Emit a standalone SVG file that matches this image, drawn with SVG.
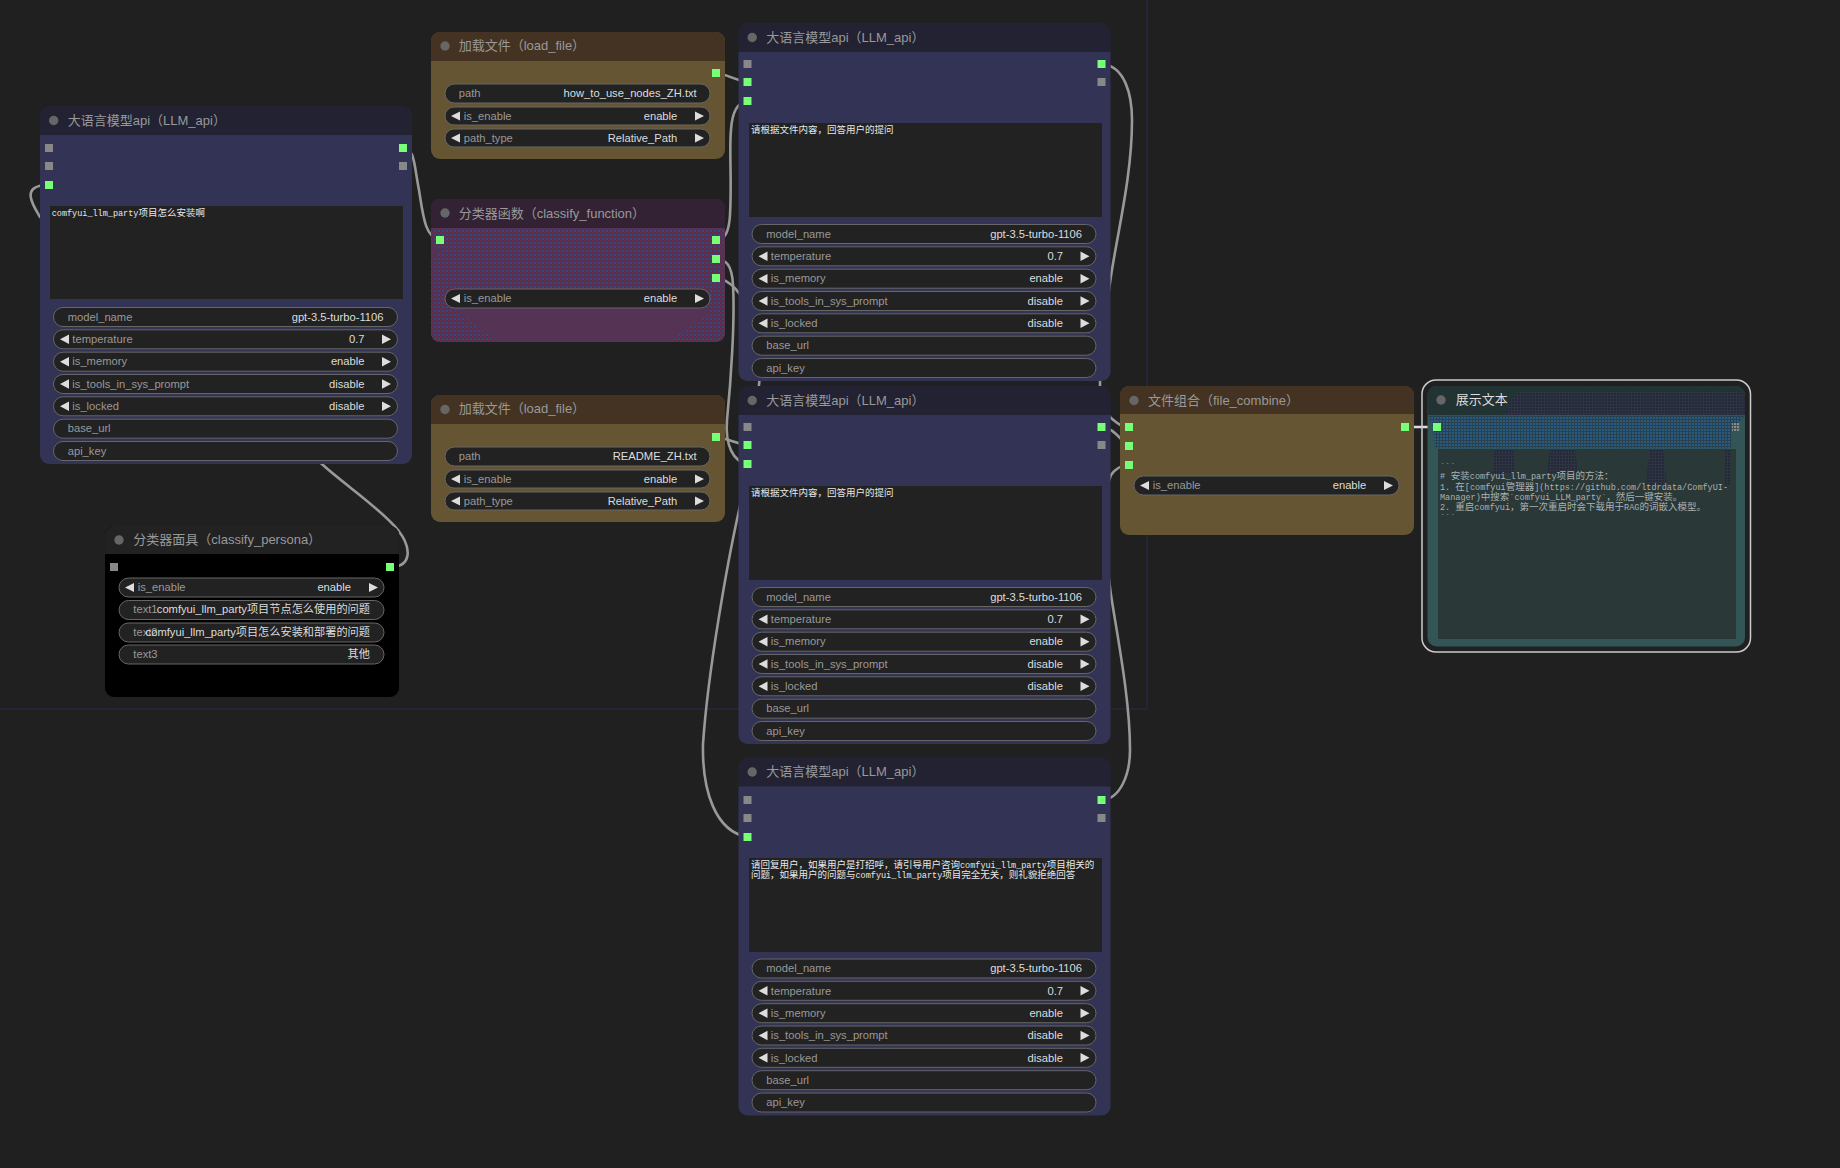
<svg xmlns="http://www.w3.org/2000/svg" width="1840" height="1168" viewBox="0 0 1840 1168">
<style>
.t{font:13px "Liberation Sans","Noto Sans CJK SC",sans-serif;fill:#999}
.l{font:11.2px "Liberation Sans","Noto Sans CJK SC",sans-serif;fill:#999}
.v{font:11.2px "Liberation Sans","Noto Sans CJK SC",sans-serif;fill:#ddd;text-anchor:end}
.ta{font:8.5px "Liberation Mono","Noto Sans CJK SC",monospace;fill:#e8e8e8}
.ta tspan{font-size:9.5px}
.out{fill:#aab2b2}
.w{fill:#222;stroke:#666;stroke-width:1}
.a{fill:#ddd}
.on{fill:#77ff77}
.off{fill:#888}
.dot{fill:#666}
.wire{fill:none;stroke:#999;stroke-width:2.6;stroke-linecap:round}
.area{fill:#222}
</style>
<defs>
<pattern id="dRB" width="4" height="4" patternUnits="userSpaceOnUse"><rect width="4" height="4" fill="#4e3358"/><rect width="2" height="2" fill="#6e2c40"/><rect x="2" y="2" width="2" height="2" fill="#3f4478"/></pattern>
<pattern id="dBlue" width="3" height="3" patternUnits="userSpaceOnUse"><rect width="3" height="3" fill="#27414f"/><rect width="2" height="2" fill="#2a5a80"/></pattern>
<pattern id="dDark" width="3" height="3" patternUnits="userSpaceOnUse"><rect width="3" height="3" fill="#2c3640"/><rect width="2" height="2" fill="#26263c"/></pattern>
<pattern id="dGrid" width="3" height="3" patternUnits="userSpaceOnUse"><rect width="3" height="3" fill="#3c5a5c"/><rect width="2" height="2" fill="#8a8a8a"/></pattern>
<clipPath id="cfClip"><rect x="431" y="199" width="294" height="143" rx="9"/></clipPath>
<g id="llmW">
<rect class="w" x="13.5" y="201.5" width="344" height="19" rx="9.5"/>
<rect class="w" x="13.5" y="223.8" width="344" height="19" rx="9.5"/>
<rect class="w" x="13.5" y="246.2" width="344" height="19" rx="9.5"/>
<rect class="w" x="13.5" y="268.5" width="344" height="19" rx="9.5"/>
<rect class="w" x="13.5" y="290.8" width="344" height="19" rx="9.5"/>
<rect class="w" x="13.5" y="313.2" width="344" height="19" rx="9.5"/>
<rect class="w" x="13.5" y="335.5" width="344" height="19" rx="9.5"/>
<path class="a" d="M29,228.6L20,233.3L29,238ZM342,228.6L351,233.3L342,238ZM29,251L20,255.7L29,260.4ZM342,251L351,255.7L342,260.4ZM29,273.3L20,278L29,282.7ZM342,273.3L351,278L342,282.7ZM29,295.6L20,300.3L29,305ZM342,295.6L351,300.3L342,305Z"/>
</g>
<path id="llmBody" d="M0,29H372V349a9,9 0 0 1-9,9H9a9,9 0 0 1-9-9Z" fill="#333355"/>
<g id="loadW">
<rect class="w" x="14" y="52" width="265" height="19" rx="9.5"/>
<rect class="w" x="14" y="75" width="265" height="18" rx="9"/>
<rect class="w" x="14" y="97" width="265" height="18" rx="9"/>
<path class="a" d="M29,79.4L20,84L29,88.6ZM264,79.4L273,84L264,88.6ZM29,101.4L20,106L29,110.6ZM264,101.4L273,106L264,110.6Z"/>
</g>
<path id="toggle" class="a" d="M29,5L20,9.5L29,14ZM264,5L273,9.5L264,14Z"/>
</defs>
<rect width="1840" height="1168" fill="#202020"/>
<path d="M1147,0V709H0" fill="none" stroke="#242a3c" stroke-width="1.5"/>

<g id="connectors">
<path class="wire" d="M403,148C415,148 414,165 419,190C423,215 425,238 440,240"/>
<path class="wire" d="M390,567C412,567 412,548 398,530C380,508 345,485 323,465L40,217C32,204 20,185 49,185"/>
<path class="wire" d="M716,73C728,74 732,80 748,82"/>
<path class="wire" d="M716,240C726,240 729,230 730,215C732,180 729,150 731,130C732,112 738,102 748,101"/>
<path class="wire" d="M716,259C726,259 732,265 733,285C735,320 731,380 727,420C725,445 733,462 748,464"/>
<path class="wire" d="M716,278C745,280 765,340 759,385C755,430 748,470 738,515C728,560 708,670 703,744C702,790 715,832 748,837"/>
<path class="wire" d="M716,437C728,438 732,443 748,445"/>
<path class="wire" d="M1102,64C1125,66 1132,95 1132,120C1132,175 1118,230 1111,276C1106,310 1100,350 1100,384C1100,400 1105,412 1111,418C1118,424 1122,427 1129,427"/>
<path class="wire" d="M1102,427C1114,428 1120,440 1129,446"/>
<path class="wire" d="M1102,800C1120,799 1130,775 1130,750C1130,700 1118,640 1111,595C1105,550 1100,500 1111,475C1116,468 1122,465 1129,465"/>
<path class="wire" style="stroke:#ddd" d="M1405,427H1437"/>
</g>

<g id="llm1" transform="translate(40,106)">
<rect width="372" height="60" rx="9" fill="#222233"/><use href="#llmBody"/>
<circle class="dot" cx="13.7" cy="14.5" r="4.7"/><text class="t" x="27.7" y="18.5">大语言模型api（LLM_api）</text>
<rect class="off" x="5" y="38" width="8" height="8"/><rect class="off" x="5" y="56" width="8" height="8"/><rect class="on" x="5" y="75" width="8" height="8"/>
<rect class="on" x="359" y="38" width="8" height="8"/><rect class="off" x="359" y="56" width="8" height="8"/>
<rect class="area" x="10" y="100" width="353" height="93"/>
<text class="ta" x="11.7" y="110">comfyui_llm_party<tspan>项目怎么安装啊</tspan></text>
<use href="#llmW"/>
<text class="l" x="27.7" y="214.8">model_name</text><text class="v" x="343.5" y="214.8">gpt-3.5-turbo-1106</text>
<text class="l" x="32.3" y="237.2">temperature</text><text class="v" x="324.5" y="237.2">0.7</text>
<text class="l" x="32.3" y="259.2">is_memory</text><text class="v" x="324.5" y="259.2">enable</text>
<text class="l" x="32.3" y="281.5">is_tools_in_sys_prompt</text><text class="v" x="324.5" y="281.5">disable</text>
<text class="l" x="32.3" y="304">is_locked</text><text class="v" x="324.5" y="304">disable</text>
<text class="l" x="27.7" y="326.2">base_url</text>
<text class="l" x="27.7" y="348.5">api_key</text>
</g>

<g id="llm2" transform="translate(738.5,23)">
<rect width="372" height="60" rx="9" fill="#222233"/><use href="#llmBody"/>
<circle class="dot" cx="13.7" cy="14.5" r="4.7"/><text class="t" x="27.7" y="18.5">大语言模型api（LLM_api）</text>
<rect class="off" x="5" y="37" width="8" height="8"/><rect class="on" x="5" y="55" width="8" height="8"/><rect class="on" x="5" y="74" width="8" height="8"/>
<rect class="on" x="359" y="37" width="8" height="8"/><rect class="off" x="359" y="55" width="8" height="8"/>
<rect class="area" x="10.5" y="100" width="353" height="94"/>
<text class="ta" x="12.5" y="110"><tspan>请根据文件内容，回答用户的提问</tspan></text>
<use href="#llmW"/>
<text class="l" x="27.7" y="214.5">model_name</text><text class="v" x="343.5" y="214.5">gpt-3.5-turbo-1106</text>
<text class="l" x="32.3" y="236.8">temperature</text><text class="v" x="324.5" y="236.8">0.7</text>
<text class="l" x="32.3" y="259">is_memory</text><text class="v" x="324.5" y="259">enable</text>
<text class="l" x="32.3" y="281.5">is_tools_in_sys_prompt</text><text class="v" x="324.5" y="281.5">disable</text>
<text class="l" x="32.3" y="303.8">is_locked</text><text class="v" x="324.5" y="303.8">disable</text>
<text class="l" x="27.7" y="326">base_url</text>
<text class="l" x="27.7" y="348.5">api_key</text>
</g>

<g id="llm3" transform="translate(738.5,386)">
<rect width="372" height="60" rx="9" fill="#222233"/><use href="#llmBody"/>
<circle class="dot" cx="13.7" cy="14.5" r="4.7"/><text class="t" x="27.7" y="18.5">大语言模型api（LLM_api）</text>
<rect class="off" x="5" y="37" width="8" height="8"/><rect class="on" x="5" y="55" width="8" height="8"/><rect class="on" x="5" y="74" width="8" height="8"/>
<rect class="on" x="359" y="37" width="8" height="8"/><rect class="off" x="359" y="55" width="8" height="8"/>
<rect class="area" x="10.5" y="100" width="353" height="94"/>
<text class="ta" x="12.5" y="110"><tspan>请根据文件内容，回答用户的提问</tspan></text>
<use href="#llmW"/>
<text class="l" x="27.7" y="214.5">model_name</text><text class="v" x="343.5" y="214.5">gpt-3.5-turbo-1106</text>
<text class="l" x="32.3" y="236.8">temperature</text><text class="v" x="324.5" y="236.8">0.7</text>
<text class="l" x="32.3" y="259">is_memory</text><text class="v" x="324.5" y="259">enable</text>
<text class="l" x="32.3" y="281.5">is_tools_in_sys_prompt</text><text class="v" x="324.5" y="281.5">disable</text>
<text class="l" x="32.3" y="303.8">is_locked</text><text class="v" x="324.5" y="303.8">disable</text>
<text class="l" x="27.7" y="326">base_url</text>
<text class="l" x="27.7" y="348.5">api_key</text>
</g>

<g id="llm4" transform="translate(738.5,757.5)">
<rect width="372" height="60" rx="9" fill="#222233"/><use href="#llmBody"/>
<circle class="dot" cx="13.7" cy="14.5" r="4.7"/><text class="t" x="27.7" y="18.5">大语言模型api（LLM_api）</text>
<rect class="off" x="5" y="38.5" width="8" height="8"/><rect class="off" x="5" y="56.5" width="8" height="8"/><rect class="on" x="5" y="75.5" width="8" height="8"/>
<rect class="on" x="359" y="38.5" width="8" height="8"/><rect class="off" x="359" y="56.5" width="8" height="8"/>
<rect class="area" x="10.5" y="100.5" width="353" height="94"/>
<text class="ta" x="12.5" y="110.5"><tspan>请回复用户，如果用户是打招呼，请引导用户咨询</tspan>comfyui_llm_party<tspan>项目相关的</tspan></text>
<text class="ta" x="12.5" y="120.5"><tspan>问题，如果用户的问题与</tspan>comfyui_llm_party<tspan>项目完全无关，则礼貌拒绝回答</tspan></text>
<use href="#llmW"/>
<text class="l" x="27.7" y="214.8">model_name</text><text class="v" x="343.5" y="214.8">gpt-3.5-turbo-1106</text>
<text class="l" x="32.3" y="237">temperature</text><text class="v" x="324.5" y="237">0.7</text>
<text class="l" x="32.3" y="259.2">is_memory</text><text class="v" x="324.5" y="259.2">enable</text>
<text class="l" x="32.3" y="281.5">is_tools_in_sys_prompt</text><text class="v" x="324.5" y="281.5">disable</text>
<text class="l" x="32.3" y="304">is_locked</text><text class="v" x="324.5" y="304">disable</text>
<text class="l" x="27.7" y="326.2">base_url</text>
<text class="l" x="27.7" y="348.5">api_key</text>
</g>

<g id="load1" transform="translate(431,32)">
<rect width="294" height="127" rx="9" fill="#665533"/>
<path d="M0,29V9a9,9 0 0 1 9-9H285a9,9 0 0 1 9,9V29Z" fill="#443322"/>
<circle class="dot" cx="14" cy="14" r="4.7"/><text class="t" x="27.7" y="18">加载文件（load_file）</text>
<rect class="on" x="281" y="37" width="8" height="8"/>
<use href="#loadW"/>
<text class="l" x="27.7" y="65">path</text><text class="v" x="265.7" y="65">how_to_use_nodes_ZH.txt</text>
<text class="l" x="32.7" y="88">is_enable</text><text class="v" x="246.3" y="88">enable</text>
<text class="l" x="32.7" y="110">path_type</text><text class="v" x="246.3" y="110">Relative_Path</text>
</g>

<g id="load2" transform="translate(431,395)">
<rect width="294" height="127" rx="9" fill="#665533"/>
<path d="M0,29V9a9,9 0 0 1 9-9H285a9,9 0 0 1 9,9V29Z" fill="#443322"/>
<circle class="dot" cx="14" cy="14.5" r="4.7"/><text class="t" x="27.7" y="18.2">加载文件（load_file）</text>
<rect class="on" x="281" y="38" width="8" height="8"/>
<use href="#loadW"/>
<text class="l" x="27.7" y="65.3">path</text><text class="v" x="265.7" y="65.3">README_ZH.txt</text>
<text class="l" x="32.7" y="87.5">is_enable</text><text class="v" x="246.3" y="87.5">enable</text>
<text class="l" x="32.7" y="110">path_type</text><text class="v" x="246.3" y="110">Relative_Path</text>
</g>

<g id="classifyFunction">
<rect x="431" y="199" width="294" height="143" rx="9" fill="#553355"/>
<path d="M431,228V208a9,9 0 0 1 9-9H716a9,9 0 0 1 9,9V228Z" fill="#332233"/>
<path clip-path="url(#cfClip)" fill="url(#dRB)" d="M431,229H725V245L722,247V283L725,290V342H668L708,315L710,308H445L458,312L498,342H431V262L442,248L431,246Z"/>
<circle class="dot" cx="445" cy="213" r="4.7"/><text class="t" x="458.7" y="218">分类器函数（classify_function）</text>
<rect class="on" x="436" y="236" width="8" height="8"/>
<rect class="on" x="712" y="236" width="8" height="8"/><rect class="on" x="712" y="255" width="8" height="8"/><rect class="on" x="712" y="274" width="8" height="8"/>
<rect class="w" x="445" y="289" width="265" height="19" rx="9.5"/>
<use href="#toggle" transform="translate(431,289)"/>
<text class="l" x="463.7" y="302">is_enable</text><text class="v" x="677.3" y="302">enable</text>
</g>

<g id="classifyPersona" transform="translate(105,526)">
<rect width="294" height="171" rx="9" fill="#000"/>
<path d="M0,28V9a9,9 0 0 1 9-9H285a9,9 0 0 1 9,9V28Z" fill="#222"/>
<circle class="dot" cx="14" cy="14" r="4.7"/><text class="t" x="28.3" y="18">分类器面具（classify_persona）</text>
<rect class="off" x="5" y="37" width="8" height="8"/><rect class="on" x="281" y="37" width="8" height="8"/>
<rect class="w" x="14" y="52" width="265" height="19" rx="9.5"/>
<use href="#toggle" transform="translate(0,52)"/>
<rect class="w" x="14" y="74.5" width="265" height="19" rx="9.5"/>
<rect class="w" x="14" y="97" width="265" height="19" rx="9.5"/>
<rect class="w" x="14" y="119" width="265" height="19" rx="9.5"/>
<text class="l" x="32.7" y="64.5">is_enable</text><text class="v" x="246" y="64.5">enable</text>
<text class="l" x="28.3" y="87.3">text1</text><text class="v" x="265" y="87.3">comfyui_llm_party项目节点怎么使用的问题</text>
<text class="l" x="28.3" y="109.7">text2</text><text class="v" x="265" y="109.7">comfyui_llm_party项目怎么安装和部署的问题</text>
<text class="l" x="28.3" y="131.7">text3</text><text class="v" x="265" y="131.7">其他</text>
</g>

<g id="fileCombine" transform="translate(1120,386)">
<rect width="294" height="149" rx="9" fill="#665533"/>
<path d="M0,28V9a9,9 0 0 1 9-9H285a9,9 0 0 1 9,9V28Z" fill="#443322"/>
<circle class="dot" cx="14" cy="14.5" r="4.7"/><text class="t" x="28" y="18.5">文件组合（file_combine）</text>
<rect class="on" x="5" y="37" width="8" height="8"/><rect class="on" x="5" y="56" width="8" height="8"/><rect class="on" x="5" y="75" width="8" height="8"/>
<rect class="on" x="281" y="37" width="8" height="8"/>
<rect class="w" x="14" y="90" width="265" height="19" rx="9.5"/>
<use href="#toggle" transform="translate(0,90)"/>
<text class="l" x="32.7" y="102.7">is_enable</text><text class="v" x="246.3" y="102.7">enable</text>
</g>

<g id="showText">
<rect x="1422" y="380" width="328.5" height="272" rx="14" fill="none" stroke="#ccc" stroke-width="1.5"/>
<rect x="1427.5" y="386" width="317.5" height="260.5" rx="9" fill="#335555"/>
<path d="M1427.5,415V395a9,9 0 0 1 9-9H1736a9,9 0 0 1 9,9V415Z" fill="#223333"/>
<path fill="url(#dDark)" d="M1505,415L1510,400L1520,392L1740,391L1745,396V415Z"/>
<path fill="url(#dBlue)" d="M1428,415.5H1745L1731,430V448.5H1435L1433,428Z"/>
<rect x="1438" y="449" width="298" height="190" fill="#2a3838"/>
<path fill="url(#dDark)" d="M1495,449H1513L1515,473H1492ZM1550,449H1575L1578,473H1547ZM1650,449H1663L1667,485H1645ZM1725,449H1730V485H1725Z"/>
<circle class="dot" cx="1441" cy="400" r="4.7"/><text class="t" style="fill:#ddd" x="1455.7" y="404">展示文本</text>
<rect class="on" x="1433" y="423" width="8" height="8"/>
<rect fill="url(#dGrid)" x="1732" y="423" width="8" height="8"/>
<text class="ta out" x="1440" y="469">```</text>
<text class="ta out" x="1440" y="479">#<tspan> 安装</tspan>comfyui_llm_party<tspan>项目的方法：</tspan></text>
<text class="ta out" x="1440" y="490">1. <tspan>在</tspan>[comfyui<tspan>管理器</tspan>](https://github.com/ltdrdata/ComfyUI-</text>
<text class="ta out" x="1440" y="500">Manager)<tspan>中搜索</tspan>`comfyui_LLM_party`<tspan>，然后一键安装。</tspan></text>
<text class="ta out" x="1440" y="510">2. <tspan>重启</tspan>comfyui<tspan>，第一次重启时会下载用于</tspan>RAG<tspan>的词嵌入模型。</tspan></text>
<text class="ta out" x="1440" y="520">```</text>
</g>
</svg>
